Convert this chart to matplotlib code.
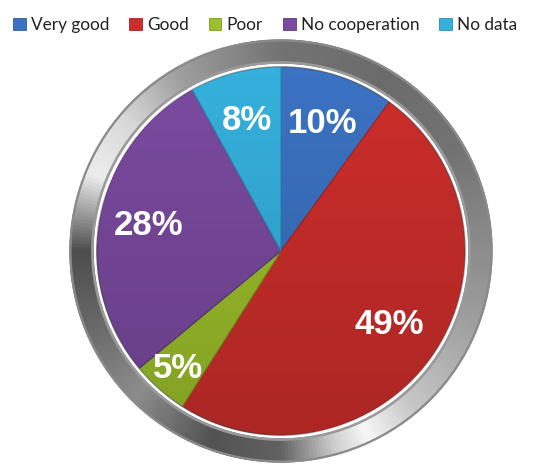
import matplotlib
matplotlib.use("Agg")
import matplotlib.pyplot as plt
import numpy as np
from matplotlib.patches import Wedge, Patch, Circle
from matplotlib.collections import PatchCollection

categories = ["Very good", "Good", "Poor", "No cooperation", "No data"]
shares = [10, 49, 5, 28, 8]
colors = ["#3b72c2", "#cc2e2b", "#9cbf2b", "#7a4a9f", "#35b0dc"]
edge_colors = ["#2d5a9c", "#a8221f", "#7c9a1f", "#5c3680", "#2a8db3"]
label_dist = [0.73, 0.71, 0.85, 0.73, 0.735]

fig = plt.figure(figsize=(5.51, 4.65), dpi=100)
ax = fig.add_axes([0, 0, 1, 1])

wedges, _ = ax.pie(shares, colors=colors, startangle=90, counterclock=False,
                   radius=1.0, wedgeprops=dict(linewidth=0.8))
for w, ec in zip(wedges, edge_colors):
    w.set_edgecolor(ec)

# soft darkening towards the bottom of the pie
shade = np.zeros((256, 1, 4))
shade[:, 0, 3] = np.linspace(0.0, 0.16, 256)
img = ax.imshow(shade, extent=(-1, 1, -1, 1), origin="upper", zorder=2,
                interpolation="bilinear")
img.set_clip_path(Circle((0, 0), 1.0, transform=ax.transData))

# labels in each slice
for w, v, d in zip(wedges, shares, label_dist):
    mid = np.deg2rad((w.theta1 + w.theta2) / 2)
    ax.text(d * np.cos(mid), d * np.sin(mid), "%d%%" % v, color="white",
            fontsize=25, fontweight="bold", family="Liberation Sans",
            ha="center", va="center", zorder=5)

# metallic bezel
ang = [0, 30, 60, 90, 120, 140, 158, 180, 200, 225, 250, 270, 285, 295, 310, 340, 360]
lev = [0.55, 0.45, 0.42, 0.45, 0.62, 0.85, 0.93, 0.30, 0.40, 0.55, 0.32, 0.38, 0.80, 0.97, 0.78, 0.62, 0.55]
step = 1
segs, cols = [], []
for a in range(0, 360, step):
    g = np.interp(a + step / 2, ang, lev)
    segs.append(Wedge((0, 0), 1.15, a, a + step + 0.3, width=0.15))
    cols.append((g, g, g))
pc = PatchCollection(segs, facecolors=cols, edgecolors="none", zorder=1)
ax.add_collection(pc)
ax.add_patch(Wedge((0, 0), 1.15, 0, 360, width=0.012, facecolor="#8a8a8a",
                   edgecolor="none", zorder=1.5))
ax.add_patch(Wedge((0, 0), 1.018, 0, 360, width=0.014, facecolor="white",
                   edgecolor="none", zorder=1.5))
ax.add_patch(Wedge((0, 0), 1.032, 0, 360, width=0.014, facecolor="#9a9a9a",
                   edgecolor="none", zorder=1.5))

r = 184.0
ax.set_xlim(-281 / r, 270 / r)
ax.set_ylim(-214 / r, 251 / r)
ax.set_aspect("auto")
ax.axis("off")

handles = [Patch(facecolor=c, edgecolor=e, linewidth=0.6) for c, e in zip(colors, edge_colors)]
leg = fig.legend(handles, categories, loc="center", bbox_to_anchor=(265 / 551, 1 - 25 / 465),
                 ncol=5, frameon=False, handlelength=0.75, handleheight=0.75,
                 handletextpad=0.3, columnspacing=1.15, borderaxespad=0,
                 prop={"family": "Lato", "size": 12.4})
for t in leg.get_texts():
    t.set_color("#222222")

fig.savefig("out.png", dpi=100)
